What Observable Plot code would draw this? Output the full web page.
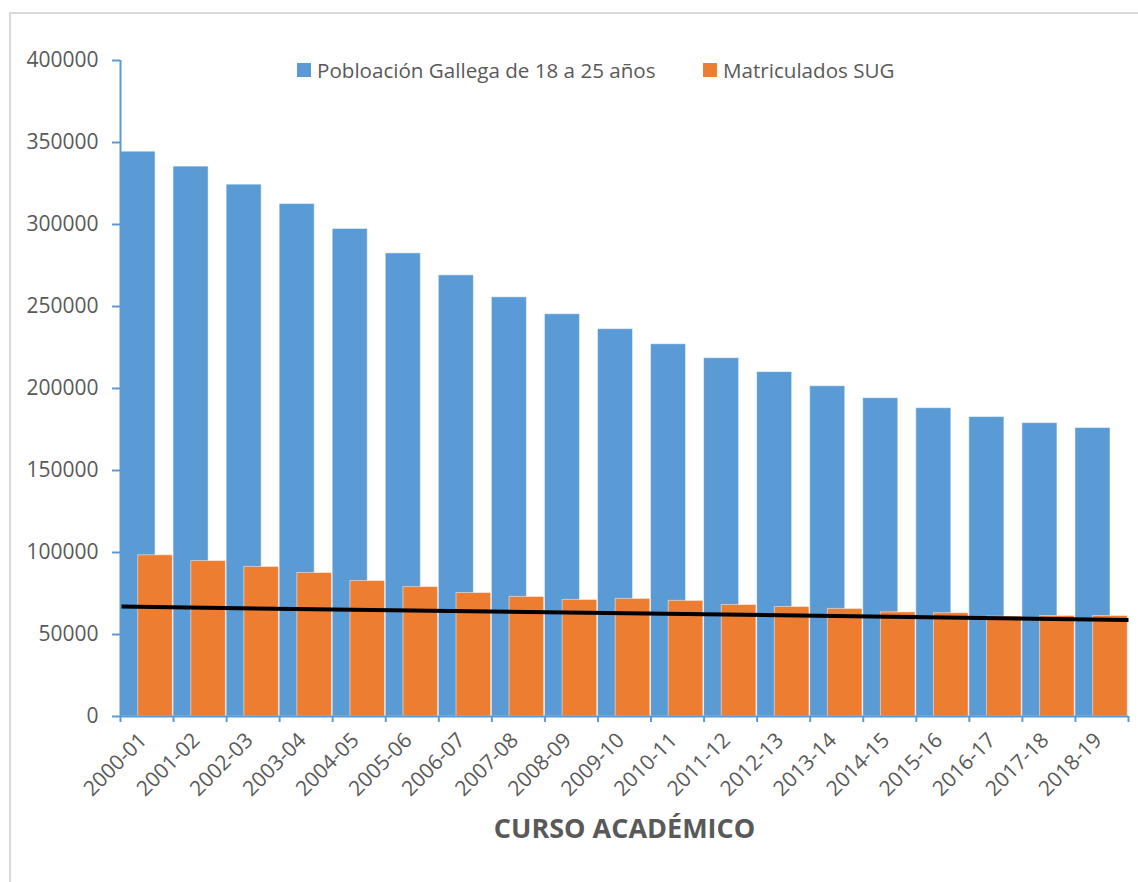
<!DOCTYPE html>
<html>
<head>
<meta charset="utf-8">
<script src="https://cdn.jsdelivr.net/npm/d3@7"></script>
<script src="https://cdn.jsdelivr.net/npm/@observablehq/plot@0.6"></script>
<style>
  html, body { margin: 0; padding: 0; background: #fff; }
  #wrap { position: relative; width: 1138px; height: 882px; font-family: "Open Sans", sans-serif; }
  #frame { position: absolute; left: 9px; top: 12px; right: 0; bottom: 0; border-left: 2px solid #d9d9d9; border-top: 2px solid #d9d9d9; pointer-events: none; }
  .leg { position: absolute; top: 56px; display: flex; align-items: center; font-size: 20.6px; color: #595959; white-space: nowrap; }
  .sw { width: 14px; height: 14px; margin-right: 6px; }
</style>
</head>
<body>
<div id="wrap">
  <div id="chart"></div>
  <div id="frame"></div>
</div>
<script>
const cursos = ["2000-01","2001-02","2002-03","2003-04","2004-05","2005-06","2006-07","2007-08","2008-09","2009-10","2010-11","2011-12","2012-13","2013-14","2014-15","2015-16","2016-17","2017-18","2018-19"];
const poblacion = [344400, 335300, 324300, 312500, 297300, 282400, 269000, 255600, 245300, 236200, 227000, 218500, 210000, 201400, 194100, 188000, 182600, 178900, 175900];
const matriculados = [98300, 94800, 91200, 87500, 82600, 78900, 75300, 72900, 71100, 71700, 70500, 68000, 66800, 65600, 63500, 63000, 60900, 61300, 61300];
const tendencia = [67000, 58900];
const yTicks = [0, 50000, 100000, 150000, 200000, 250000, 300000, 350000, 400000];
const serieNombres = ["Pobloación Gallega de 18 a 25 años", "Matriculados SUG"];
const colores = ["#5b9bd5", "#ed7d31"];
const tituloX = "CURSO ACADÉMICO";

const axisColor = "#5b9bd5";
const textColor = "#595959";
const n = cursos.length;

const plot = Plot.plot({
  width: 1138,
  height: 882,
  marginLeft: 120,
  marginRight: 10,
  marginTop: 60,
  marginBottom: 166,
  style: { fontFamily: "Open Sans, sans-serif", background: "transparent", color: textColor, overflow: "visible" },
  x: { type: "linear", domain: [0, n], axis: null },
  y: { domain: [0, 400000], axis: null },
  marks: [
    Plot.rectY(poblacion, { x1: (d, i) => i, x2: (d, i) => i + 1, y: d => d, fill: colores[0], insetRight: 18, stroke: "#fff", strokeOpacity: 0.5, strokeWidth: 1 }),
    Plot.rectY(matriculados, { x1: (d, i) => i, x2: (d, i) => i + 1, y: d => d, fill: colores[1], insetLeft: 17.7, insetRight: 0.7, stroke: "#fff", strokeOpacity: 0.5, strokeWidth: 1 }),
    Plot.link([0], { x1: 0, x2: n, y1: () => tendencia[0], y2: () => tendencia[1], stroke: "#000", strokeWidth: 4 }),
    Plot.ruleX([0], { stroke: axisColor, strokeWidth: 2 }),
    Plot.ruleY([0], { stroke: axisColor, strokeWidth: 2 }),
    Plot.axisY({ ticks: yTicks, tickSize: 8, tickPadding: 14, tickFormat: d => String(d), fontSize: 21, stroke: axisColor, strokeWidth: 2, fill: textColor, strokeOpacity: 1, label: null }),
    Plot.axisX({ ticks: d3.range(n + 1), tickSize: 6, tickFormat: () => "", stroke: axisColor, strokeWidth: 2, strokeOpacity: 1, label: null }),
    Plot.text(cursos, { x: (d, i) => i + 0.5, text: d => d, frameAnchor: "bottom", dy: 25, dx: 1, rotate: -45, textAnchor: "end", fontSize: 21, fill: textColor }),
    Plot.text([tituloX], { text: d => d, frameAnchor: "bottom", dy: 121, fontSize: 27, fontWeight: "bold", fill: textColor })
  ]
});
document.getElementById("chart").appendChild(plot);

const wrap = document.getElementById("wrap");
const lefts = [297, 703];
serieNombres.forEach((name, k) => {
  const item = document.createElement("div");
  item.className = "leg";
  item.style.left = lefts[k] + "px";
  const sw = document.createElement("span");
  sw.className = "sw";
  sw.style.background = colores[k];
  const t = document.createElement("span");
  t.textContent = name;
  item.appendChild(sw);
  item.appendChild(t);
  wrap.appendChild(item);
});
</script>
</body>
</html>
